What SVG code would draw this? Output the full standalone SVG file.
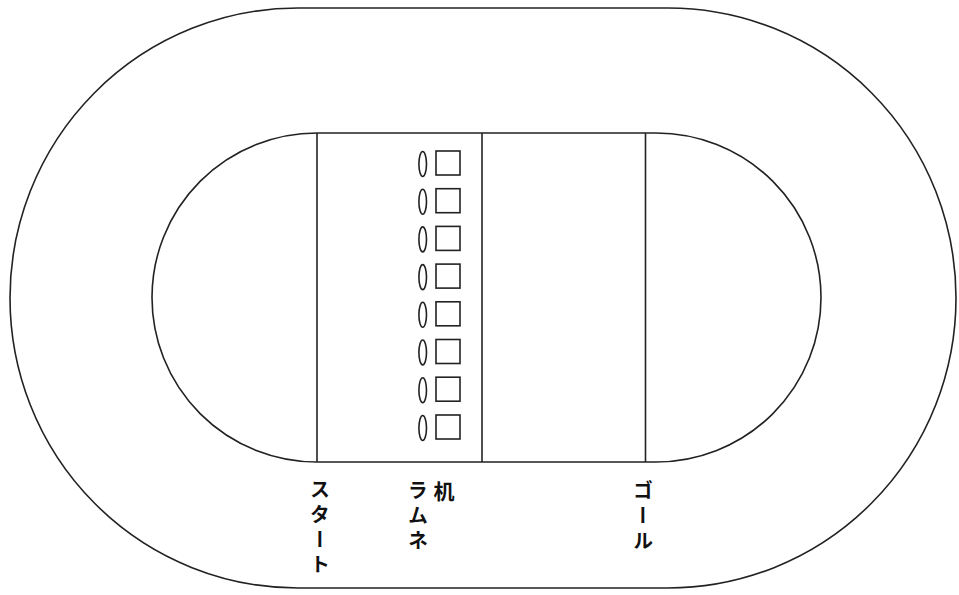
<svg xmlns="http://www.w3.org/2000/svg" width="959" height="595" viewBox="0 0 959 595">
<style>
.ln{fill:none;stroke:#222;stroke-width:1.6}
.lb{font-family:"Noto Sans CJK JP","Noto Sans",sans-serif;font-size:20px;font-weight:bold;fill:#111;writing-mode:vertical-rl;letter-spacing:5px}
</style>
<defs>
<ellipse id="ov" cx="0" cy="0" rx="3.8" ry="12.5" class="ln"/>
<rect id="sq" x="0" y="0" width="24" height="24" class="ln"/>
</defs>
<rect width="959" height="595" fill="#fff"/>
<g id="track-outer"><rect x="10" y="8" width="946" height="580" rx="288" ry="290" class="ln"/></g>
<g id="track-inner"><rect x="152" y="133" width="669" height="329" rx="165" ry="164.5" class="ln"/></g>
<g id="connectors">
<line x1="317" y1="133" x2="317" y2="462" class="ln"/>
<line x1="482" y1="133" x2="482" y2="462" class="ln"/>
<line x1="645.5" y1="133" x2="645.5" y2="462" class="ln"/>
</g>
<g id="ramune">
<use href="#ov" x="422.7" y="164"/>
<use href="#ov" x="422.7" y="201.7"/>
<use href="#ov" x="422.7" y="239.4"/>
<use href="#ov" x="422.7" y="277.1"/>
<use href="#ov" x="422.7" y="314.8"/>
<use href="#ov" x="422.7" y="352.5"/>
<use href="#ov" x="422.7" y="390.2"/>
<use href="#ov" x="422.7" y="428"/>
</g>
<g id="desks">
<use href="#sq" x="436" y="151"/>
<use href="#sq" x="436" y="188.7"/>
<use href="#sq" x="436" y="226.4"/>
<use href="#sq" x="436" y="264.1"/>
<use href="#sq" x="436" y="301.8"/>
<use href="#sq" x="436" y="339.5"/>
<use href="#sq" x="436" y="377.2"/>
<use href="#sq" x="436" y="415"/>
</g>
<g id="label-start"><text class="lb" x="320" y="479">スタート</text></g>
<g id="label-ramune"><text class="lb" x="418" y="480">ラムネ</text></g>
<g id="label-desk"><text class="lb" x="444" y="481" style="font-size:21px">机</text></g>
<g id="label-goal"><text class="lb" x="643" y="480">ゴール</text></g>
</svg>
